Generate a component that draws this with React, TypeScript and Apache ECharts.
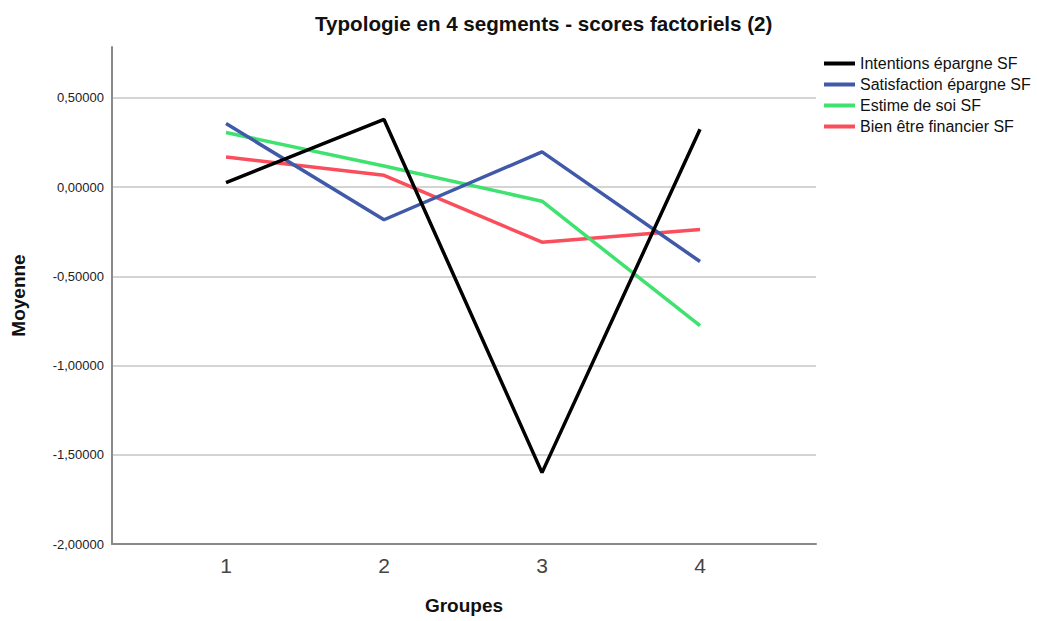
import React, { useEffect, useRef } from "react";
import * as echarts from "echarts";

const groups = [1, 2, 3, 4];
const seriesNames = [
  "Intentions épargne SF",
  "Satisfaction épargne SF",
  "Estime de soi SF",
  "Bien être financier SF",
];
const intentions = [0.025, 0.379, -1.6, 0.324];
const satisfaction = [0.356, -0.183, 0.197, -0.417];
const estime = [0.306, 0.118, -0.079, -0.777];
const bienEtre = [0.169, 0.066, -0.309, -0.238];
const yTicks = [-2, -1.5, -1, -0.5, 0, 0.5];
const colors = ["#000000", "#4059a9", "#3fe26f", "#fa4e5c"];

export default function App() {
  const ref = useRef<HTMLDivElement>(null);
  useEffect(() => {
    document.body.style.margin = "0";
    const chart = echarts.init(ref.current!, null, { renderer: "svg" });
    const all = [intentions, satisfaction, estime, bienEtre];
    const font = "'Liberation Sans', Arial, sans-serif";
    const narrow = "'Liberation Sans Narrow', 'Liberation Sans', Arial, sans-serif";
    chart.setOption({
      animation: false,
      title: {
        text: "Typologie en 4 segments - scores factoriels (2)",
        left: 310,
        top: 8,
        textStyle: { fontFamily: font, fontSize: 20.6, fontWeight: "bold", color: "#111" },
      },
      legend: {
        orient: "vertical",
        left: 817,
        top: 48,
        itemWidth: 31,
        itemHeight: 14,
        itemGap: 0,
        itemStyle: { opacity: 0 },
        lineStyle: { width: 4 },
        data: seriesNames,
        textStyle: { fontFamily: font, fontSize: 16, lineHeight: 21, color: "#111" },
      },
      grid: { left: 112, right: 221, top: 47, bottom: 77, containLabel: false },
      xAxis: {
        type: "value",
        min: 0.2785,
        max: 4.734,
        name: "Groupes",
        nameLocation: "middle",
        nameGap: 52,
        nameTextStyle: { fontFamily: font, fontSize: 19, fontWeight: "bold", color: "#111" },
        axisLine: { show: true, onZero: false, lineStyle: { color: "#8a8a8a", width: 2 } },
        axisTick: { show: false, customValues: groups },
        splitLine: { show: false },
        axisLabel: {
          customValues: groups,
          margin: 11,
          fontFamily: narrow,
          fontSize: 21,
          color: "#444",
        },
      },
      yAxis: {
        type: "value",
        min: -2,
        max: 0.785,
        name: "Moyenne",
        nameLocation: "middle",
        nameRotate: 90,
        nameGap: 84,
        nameTextStyle: { fontFamily: font, fontSize: 19, fontWeight: "bold", color: "#111" },
        axisLine: { show: true, lineStyle: { color: "#8a8a8a", width: 2 } },
        axisTick: { show: false, customValues: yTicks },
        splitLine: { show: true, lineStyle: { color: "#d4d4d4", width: 2 } },
        axisLabel: {
          customValues: yTicks,
          margin: 8,
          fontFamily: font,
          fontSize: 13,
          color: "#222",
          formatter: (v: number) => v.toFixed(5).replace(".", ","),
        },
      },
      series: all.map((vals, i) => ({
        name: seriesNames[i],
        type: "line",
        symbol: "none",
        data: groups.map((g, j) => [g, vals[j]]),
        lineStyle: { color: colors[i], width: 3.5 },
        itemStyle: { color: colors[i] },
        z: 10 - i,
      })),
    });
    return () => chart.dispose();
  }, []);
  return <div ref={ref} style={{ width: 1037, height: 621 }} />;
}
